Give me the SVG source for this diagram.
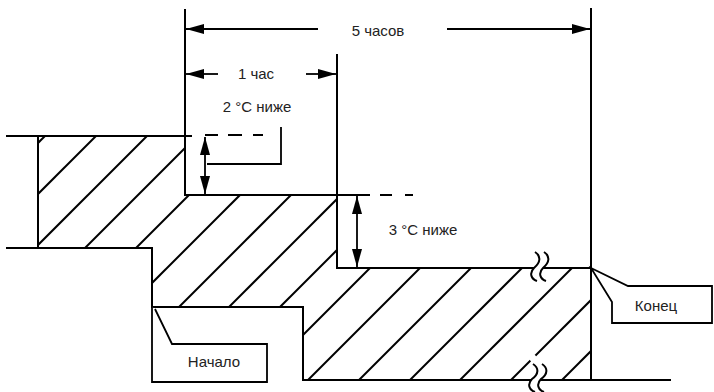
<svg xmlns="http://www.w3.org/2000/svg" width="714" height="392" viewBox="0 0 714 392">
<style>
.ln{fill:none;stroke:#000;stroke-width:2;stroke-linecap:square}
.thin{fill:none;stroke:#000;stroke-width:1.6}
.dim{fill:none;stroke:#000;stroke-width:1.8}
.h{stroke:#000;stroke-width:2}
.lbl{font-family:"Liberation Sans",Arial,sans-serif;font-size:15px;fill:#222;text-anchor:middle}
.box{fill:#fff;stroke:#000;stroke-width:1.8;stroke-linejoin:miter}
.brk{fill:none;stroke:#000;stroke-width:2}
.wh{fill:#fff;stroke:none}
</style>
<defs>
<marker id="ah" viewBox="0 0 18 10" refX="18" refY="5" markerWidth="18" markerHeight="10" markerUnits="userSpaceOnUse" orient="auto-start-reverse">
<path d="M0,0 L18,5 L0,10 z" fill="#000"/>
</marker>
<clipPath id="hc">
<polygon points="38,136 185,136 185,195 337,195 337,268 591,268 591,380 303,380 303,307 152,307 152,248 38,248"/>
</clipPath>
</defs>
<rect width="714" height="392" fill="#fff"/>

<g id="hatch" clip-path="url(#hc)">
<line class="h" x1="-219" y1="400" x2="181" y2="0"/>
<line class="h" x1="-168" y1="400" x2="232" y2="0"/>
<line class="h" x1="-117" y1="400" x2="283" y2="0"/>
<line class="h" x1="-67" y1="400" x2="333" y2="0"/>
<line class="h" x1="-16" y1="400" x2="384" y2="0"/>
<line class="h" x1="35" y1="400" x2="435" y2="0"/>
<line class="h" x1="86" y1="400" x2="486" y2="0"/>
<line class="h" x1="136" y1="400" x2="536" y2="0"/>
<line class="h" x1="187" y1="400" x2="587" y2="0"/>
<line class="h" x1="238" y1="400" x2="638" y2="0"/>
<line class="h" x1="288" y1="400" x2="688" y2="0"/>
<line class="h" x1="339" y1="400" x2="739" y2="0"/>
<line class="h" x1="390" y1="400" x2="790" y2="0"/>
<line class="h" x1="440" y1="400" x2="840" y2="0"/>
<line class="h" x1="491" y1="400" x2="891" y2="0"/>
<line class="h" x1="542" y1="400" x2="942" y2="0"/>
</g>

<g id="profile">
<path class="ln" d="M7,136 H191"/>
<path class="ln" d="M38,136 V248"/>
<path class="ln" d="M7,248 H152 V307 H303 V380 H670"/>
<path class="ln" d="M185,10 V195 H345"/>
<path class="ln" d="M337,55 V268 H591"/>
<path class="ln" d="M591,9 V380"/>
</g>

<g id="breaks">
<path class="wh" d="M535,252 C541,256 541,262 534,268 C529,273 531,279 537,281 L546,281 C540,279 538,273 543,268 C550,262 550,256 544,252 Z"/>
<path class="brk" d="M535,252 C541,256 541,262 534,268 C529,273 531,279 537,281"/>
<path class="brk" d="M544,252 C550,256 550,262 543,268 C538,273 540,279 546,281"/>
<path class="wh" d="M526,355 L533,364 C539,368 539,374 532,379 C527,384 529,390 535,392 L544,392 C538,390 536,384 541,379 C548,374 548,368 542,364 L535,355 Z"/>
<path class="brk" d="M533,364 C539,368 539,374 532,379 C527,384 529,390 535,392"/>
<path class="brk" d="M542,364 C548,368 548,374 541,379 C536,384 538,390 544,392"/>
</g>

<g id="connectors">
<line class="dim" x1="318" y1="29" x2="186" y2="29" marker-end="url(#ah)"/>
<line class="dim" x1="447" y1="29" x2="590" y2="29" marker-end="url(#ah)"/>
<line class="dim" x1="218" y1="74" x2="186" y2="74" marker-end="url(#ah)"/>
<line class="dim" x1="306" y1="74" x2="336" y2="74" marker-end="url(#ah)"/>
<line class="dim" x1="205" y1="137" x2="205" y2="194" marker-start="url(#ah)" marker-end="url(#ah)"/>
<line class="dim" x1="357" y1="196" x2="357" y2="267" marker-start="url(#ah)" marker-end="url(#ah)"/>
<path class="dim" d="M205,135 H218 M228,135 H242 M253,135 H263"/>
<path class="dim" d="M281,127 V164 H207"/>
<path class="dim" d="M345,195 H370 M380,195 H392 M405,195 H413"/>
</g>

<g id="label-5h"><text class="lbl" x="378" y="36">5 часов</text></g>
<g id="label-1h"><text class="lbl" x="256" y="79">1 час</text></g>
<g id="label-2c"><text class="lbl" x="257" y="112">2 °C ниже</text></g>
<g id="label-3c"><text class="lbl" x="423" y="235">3 °C ниже</text></g>

<g id="node-start">
<path class="box" d="M155,309 L172,344 H267 V382 H152 V307"/>
<text class="lbl" x="214" y="367">Начало</text>
</g>

<g id="node-end">
<path class="box" d="M591,268 L628,286 H712 V323 H612 V302 Z"/>
<text class="lbl" x="656" y="311">Конец</text>
</g>
</svg>
